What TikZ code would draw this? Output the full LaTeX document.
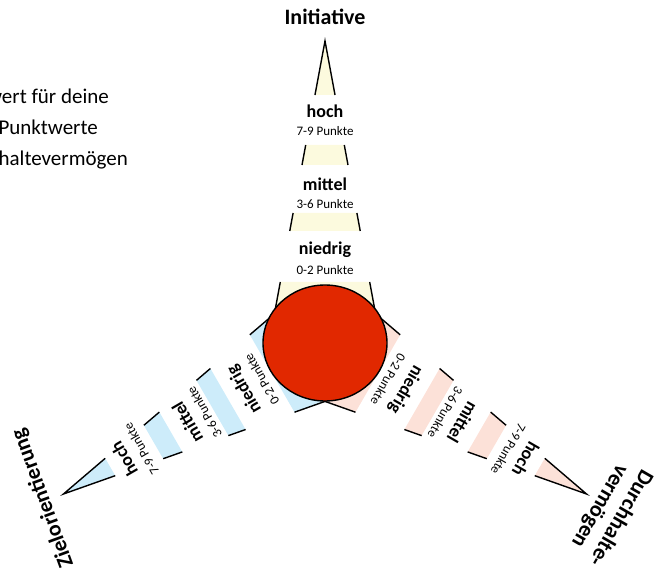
\documentclass[tikz,border=0pt]{standalone}
\usepackage{fontspec}
\setmainfont{Carlito}
\usetikzlibrary{calc}

\definecolor{spikeyellow}{RGB}{252,250,222}
\definecolor{spikeblue}{RGB}{205,236,250}
\definecolor{spikepink}{RGB}{252,225,216}
\definecolor{dotred}{RGB}{225,40,0}

\begin{document}
\begin{tikzpicture}[x=1pt,y=1pt]
	\tikzset{
		edge/.style={line width=1.4pt},
		lvl/.style={font=\bfseries\fontsize{18}{18}\selectfont, inner sep=0pt},
		pts/.style={font=\fontsize{13}{13}\selectfont, inner sep=0pt},
		heading/.style={font=\bfseries\fontsize{22}{24}\selectfont, inner sep=0pt, align=center},
		legend/.style={font=\fontsize{21}{21}\selectfont, anchor=base east, inner sep=0pt}
	}
	\useasboundingbox (0,0) rectangle (654,574);
	\clip (0,0) rectangle (654,574);

	\coordinate (c) at (325,231);

	\foreach \ang/\col/\nm in {0/spikeyellow/ini, 120/spikeblue/ziel, 240/spikepink/durch} {
		\begin{scope}[shift={(c)}, rotate=\ang, transform shape]
			\foreach \a/\b in {0/61, 112/130, 178/198} {
				\fill[\col] ({-56+0.1854*\a},\a) -- ({56-0.1854*\a},\a) -- ({56-0.1854*\b},\b) -- ({-56+0.1854*\b},\b) -- cycle;
				\draw[edge] ({-56+0.1854*\a},\a) -- ({-56+0.1854*\b},\b) ({56-0.1854*\a},\a) -- ({56-0.1854*\b},\b);
			}
			\filldraw[edge, fill=\col] ({-56+0.1854*248},248) -- (0,302) -- ({56-0.1854*248},248);

			\node[lvl] (\nm-hoch) at (0,232) {hoch};
			\node[pts] (\nm-hochpts) at (0,212) {7-9 Punkte};
			\node[lvl] (\nm-mittel) at (0,159) {mittel};
			\node[pts] (\nm-mittelpts) at (0,139) {3-6 Punkte};
			\node[lvl] (\nm-niedrig) at (0,93) {niedrig};
			\node[pts] (\nm-niedrigpts) at (0,73) {0-2 Punkte};
		\end{scope}
	}

	\filldraw[edge, fill=dotred] (c) ellipse [x radius=62, y radius=58];

	\node[heading] (ini) at (325,557) {Initiative};
	\node[heading, rotate=110] (ziel) at (43,76) {Zielorientierung};
	\node[heading, rotate=-120] (durch) at (610,62) {Durchhalte-\\vermögen};

	\node[legend] (leg1) at (109,470) {wert für deine};
	\node[legend] (leg2) at (98,439) {Punktwerte};
	\node[legend] (leg3) at (128,408) {haltevermögen};
\end{tikzpicture}
\end{document}
